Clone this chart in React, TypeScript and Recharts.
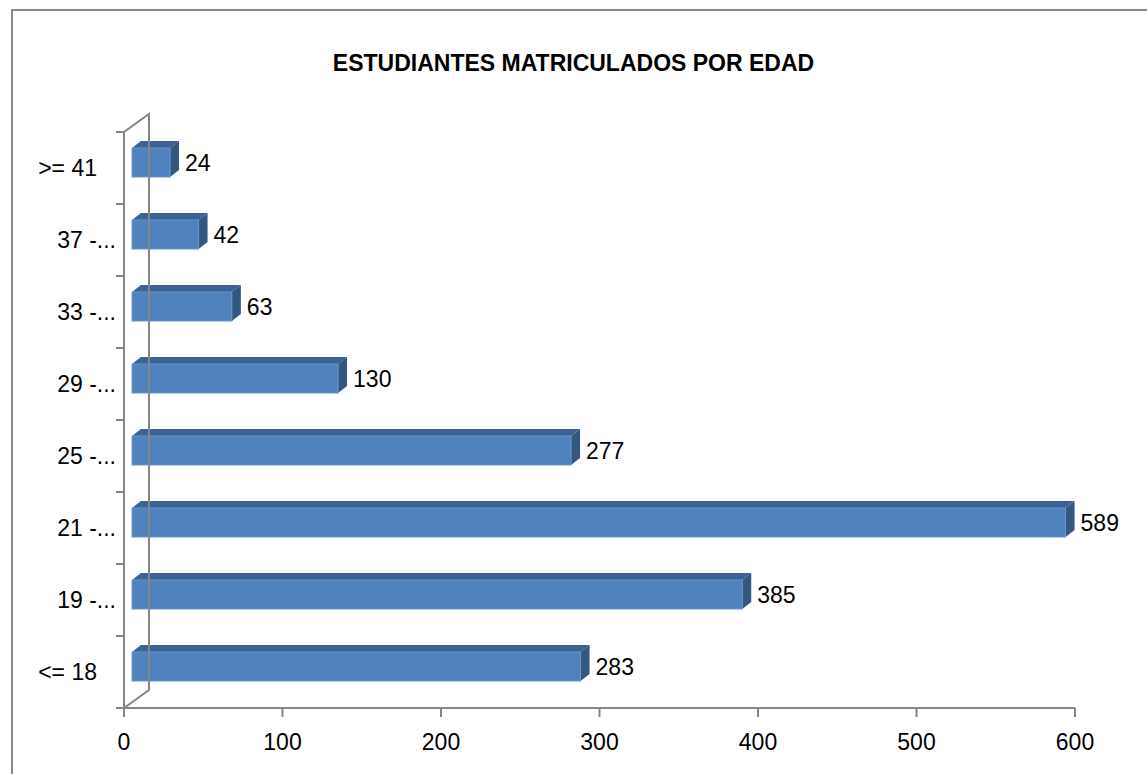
import { BarChart, Bar, XAxis, YAxis, LabelList } from "recharts";

const categories = ["<= 18", "19 -...", "21 -...", "25 -...", "29 -...", "33 -...", "37 -...", ">= 41"];
const students = [283, 385, 589, 277, 130, 63, 42, 24];
const xTicks = [0, 100, 200, 300, 400, 500, 600];

const data = categories.map((edad, i) => ({ edad, estudiantes: students[i] }));

const AXIS = "#868686";
const FONT = "'Liberation Sans', Arial, sans-serif";
// 3d offsets: wall depth, bar front offset, bar depth
const WALL_DX = 25;
const WALL_DY = 18;
const FRONT_DX = 8;
const FRONT_DY = 6;
const DEPTH_DX = 9;
const DEPTH_DY = 7;
const TICK = 8;

function Bar3D(props: any) {
  const { x, y, width, height } = props;
  const x0 = x + FRONT_DX;
  const y0 = y - FRONT_DY;
  const x1 = x0 + width;
  return (
    <g>
      <polygon
        points={`${x0},${y0} ${x1},${y0} ${x1 + DEPTH_DX},${y0 - DEPTH_DY} ${x0 + DEPTH_DX},${y0 - DEPTH_DY}`}
        fill="#3b6293"
      />
      <polygon
        points={`${x1},${y0} ${x1 + DEPTH_DX},${y0 - DEPTH_DY} ${x1 + DEPTH_DX},${y0 + height - DEPTH_DY} ${x1},${y0 + height}`}
        fill="#34577f"
      />
      <rect x={x0} y={y0} width={width} height={height} fill="#4f81bd" stroke="#6a96cc" strokeWidth={1} />
    </g>
  );
}

function ValueLabel(props: any) {
  const { x, y, width, height, value } = props;
  return (
    <text
      x={x + FRONT_DX + width + DEPTH_DX + 6}
      y={y - FRONT_DY + height / 2 + 8}
      fontSize={23}
      fontFamily={FONT}
      fill="#000"
    >
      {value}
    </text>
  );
}

function EdadTick(props: any) {
  const { x, y, payload, index } = props;
  const axisX = x + TICK;
  const half = payload.offset || 36;
  const bottom = y + half;
  const truncated = String(payload.value).endsWith("...");
  const n = categories.length;
  return (
    <g>
      <line x1={axisX - TICK} x2={axisX} y1={bottom} y2={bottom} stroke={AXIS} strokeWidth={2} />
      {index === n - 1 && (
        <line x1={axisX - TICK} x2={axisX} y1={y - half} y2={y - half} stroke={AXIS} strokeWidth={2} />
      )}
      {index === 0 && (
        <g stroke={AXIS} strokeWidth={2} fill="none">
          <polyline
            points={`${axisX},${bottom} ${axisX + WALL_DX},${bottom - WALL_DY} ${axisX + WALL_DX},${bottom - 2 * half * n - WALL_DY} ${axisX},${bottom - 2 * half * n}`}
          />
        </g>
      )}
      <text
        x={axisX - (truncated ? 8 : 27)}
        y={y + 8}
        textAnchor="end"
        fontSize={23}
        fontFamily={FONT}
        fill="#000"
      >
        {payload.value}
      </text>
    </g>
  );
}

export default function App() {
  return (
    <div
      style={{
        position: "absolute",
        left: 0,
        top: 0,
        width: 1147,
        height: 774,
        overflow: "hidden",
        background: "#fff",
      }}
    >
      <div
        style={{
          position: "absolute",
          left: 11,
          top: 9,
          width: 1200,
          height: 820,
          border: "2px solid #8a8a8a",
          boxSizing: "border-box",
        }}
      />
      <div
        style={{
          position: "absolute",
          left: 0,
          top: 52,
          width: 1147,
          textAlign: "center",
          fontFamily: FONT,
          fontWeight: "bold",
          fontSize: 23,
          lineHeight: "23px",
          color: "#000",
        }}
      >
        ESTUDIANTES MATRICULADOS POR EDAD
      </div>
      <div style={{ position: "absolute", left: 0, top: 0 }}>
        <BarChart
          width={1147}
          height={774}
          data={data}
          layout="vertical"
          margin={{ top: 132, right: 72, bottom: 16, left: 10 }}
        >
          <XAxis
            type="number"
            domain={[0, 600]}
            ticks={xTicks}
            height={50}
            axisLine={{ stroke: AXIS, strokeWidth: 2 }}
            tickLine={{ stroke: AXIS, strokeWidth: 2 }}
            tickSize={9}
            tickMargin={17}
            tick={{ fontSize: 23, fontFamily: FONT, fill: "#000" }}
          />
          <YAxis
            type="category"
            dataKey="edad"
            reversed
            width={114}
            axisLine={{ stroke: AXIS, strokeWidth: 2 }}
            tickLine={false}
            tickSize={TICK}
            tickMargin={0}
            interval={0}
            tick={<EdadTick />}
          />
          <Bar dataKey="estudiantes" barSize={29} shape={<Bar3D />} isAnimationActive={false}>
            <LabelList dataKey="estudiantes" content={<ValueLabel />} />
          </Bar>
        </BarChart>
      </div>
    </div>
  );
}
